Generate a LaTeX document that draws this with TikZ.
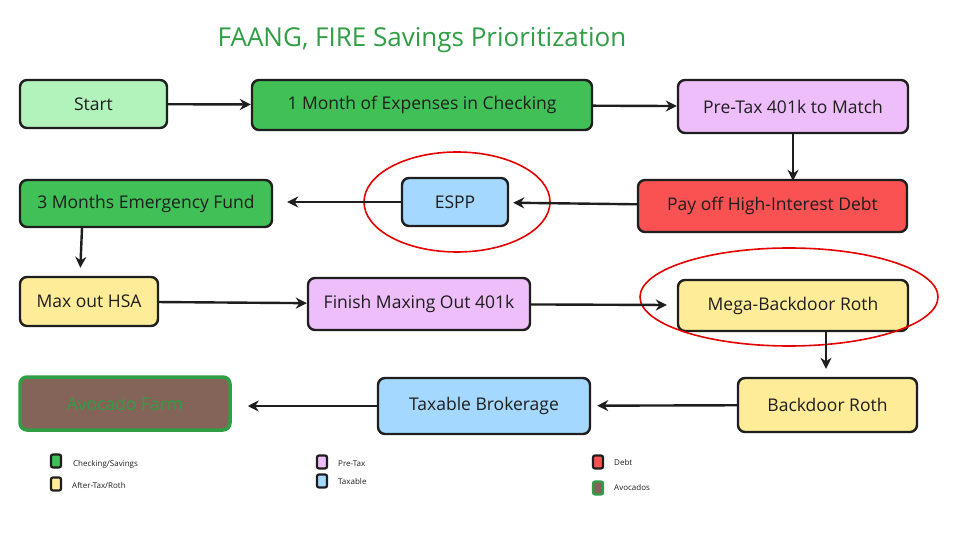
\documentclass[tikz,border=0pt]{standalone}
\usepackage{fontspec}
\setmainfont{Open Sans}
\usetikzlibrary{arrows.meta,shapes.geometric}
\definecolor{dgreen}{HTML}{2F9E44}
\definecolor{mgreen}{HTML}{40C057}
\definecolor{lgreen}{HTML}{B2F2BB}
\definecolor{lpurple}{HTML}{EEBEFA}
\definecolor{lred}{HTML}{FA5252}
\definecolor{lblue}{HTML}{A5D8FF}
\definecolor{lyellow}{HTML}{FFEC99}
\definecolor{brown}{HTML}{846358}
\definecolor{ink}{HTML}{1E1E1E}
\tikzset{
  box/.style={draw=ink, line width=2.4pt, rounded corners=7pt, inner sep=0pt,
    font=\fontsize{17.5}{21}\selectfont, text=ink},
  arr/.style={draw=ink, line width=2.4pt, -{Stealth[length=11pt,width=11pt]}},
  ring/.style={ellipse, draw=red!90!black, line width=1.6pt, inner sep=0pt},
  sw/.style={draw=ink, line width=2.2pt, rounded corners=2pt, minimum width=10pt, minimum height=13pt, inner sep=0pt},
  lab/.style={font=\fontsize{8}{10}\selectfont, text=ink, anchor=west, inner sep=0pt}
}
\begin{document}
\begin{tikzpicture}[x=1pt,y=-1pt]
\useasboundingbox[fill=white] (0,0) rectangle (957,534);
\node[font=\fontsize{26}{30}\selectfont, text=dgreen] (title) at (422,40) {FAANG, FIRE Savings Prioritization};

\node[box, fill=lgreen, minimum width=147, minimum height=48] (start) at (93.5,104) {Start};
\node[box, fill=mgreen, minimum width=340, minimum height=50] (month) at (422,105) {1 Month of Expenses in Checking};
\node[box, fill=lpurple, minimum width=230, minimum height=53] (pretax) at (793,106.5) {Pre-Tax 401k to Match};
\node[box, fill=lred, minimum width=269, minimum height=52] (payoff) at (772.5,206) {Pay off High-Interest Debt};
\node[box, fill=lblue, minimum width=106, minimum height=48] (espp) at (455,202) {ESPP};
\node[box, fill=mgreen, minimum width=252, minimum height=47] (three) at (146,203.5) {3 Months Emergency Fund};
\node[box, fill=lyellow, minimum width=138, minimum height=49] (hsa) at (89,301.5) {Max out HSA};
\node[box, fill=lpurple, minimum width=222, minimum height=52] (finish) at (419,304) {Finish Maxing Out 401k};
\node[box, fill=lyellow, minimum width=230, minimum height=51] (mega) at (793,305.5) {Mega-Backdoor Roth};
\node[box, fill=lyellow, minimum width=179, minimum height=54] (backdoor) at (827.5,405) {Backdoor Roth};
\node[box, fill=lblue, minimum width=212, minimum height=56] (taxable) at (484,406) {Taxable Brokerage};
\node[box, draw=dgreen, line width=3.5pt, fill=brown, text=dgreen, minimum width=210, minimum height=53] (avocado) at (125,403.5) {Avocado Farm};

\node[ring, minimum width=186, minimum height=100] (ring1) at (457,202) {};
\node[ring, minimum width=298, minimum height=98] (ring2) at (789,297) {};

\draw[arr] (start) -- (month);
\draw[arr] (month) -- (pretax);
\draw[arr] (pretax.south) -- ([yshift=-2pt]pretax.south |- payoff.north);
\draw[arr, shorten >=4pt] (payoff) -- (espp);
\draw[arr, shorten >=14pt] (espp.west) -- (three.east |- espp.west);
\draw[arr, shorten >=8pt] ([xshift=-64pt]three.south) -- ([xshift=-66pt]three.south |- hsa.north);
\draw[arr] (hsa) -- (finish);
\draw[arr, shorten >=10pt] (finish) -- (mega);
\draw[arr, shorten >=8pt] ([xshift=33pt]mega.south) -- ([xshift=33pt]mega.south |- backdoor.north);
\draw[arr, shorten >=6pt] (backdoor) -- (taxable);
\draw[arr, shorten >=16pt] (taxable) -- (avocado.east |- taxable.west);

\node[sw, fill=mgreen] (s1) at (56,461) {};
\node[lab] (l1) at (73,464) {Checking/Savings};
\node[sw, fill=lyellow] (s2) at (56,484) {};
\node[lab] (l2) at (72,485) {After-Tax/Roth};
\node[sw, fill=lpurple] (s3) at (322,462) {};
\node[lab] (l3) at (338,464) {Pre-Tax};
\node[sw, fill=lblue] (s4) at (322,481) {};
\node[lab] (l4) at (338,481) {Taxable};
\node[sw, fill=lred] (s5) at (598,462) {};
\node[lab] (l5) at (614,462) {Debt};
\node[sw, draw=dgreen, fill=brown] (s6) at (598,488) {};
\node[lab] (l6) at (614,487) {Avocados};
\end{tikzpicture}
\end{document}
